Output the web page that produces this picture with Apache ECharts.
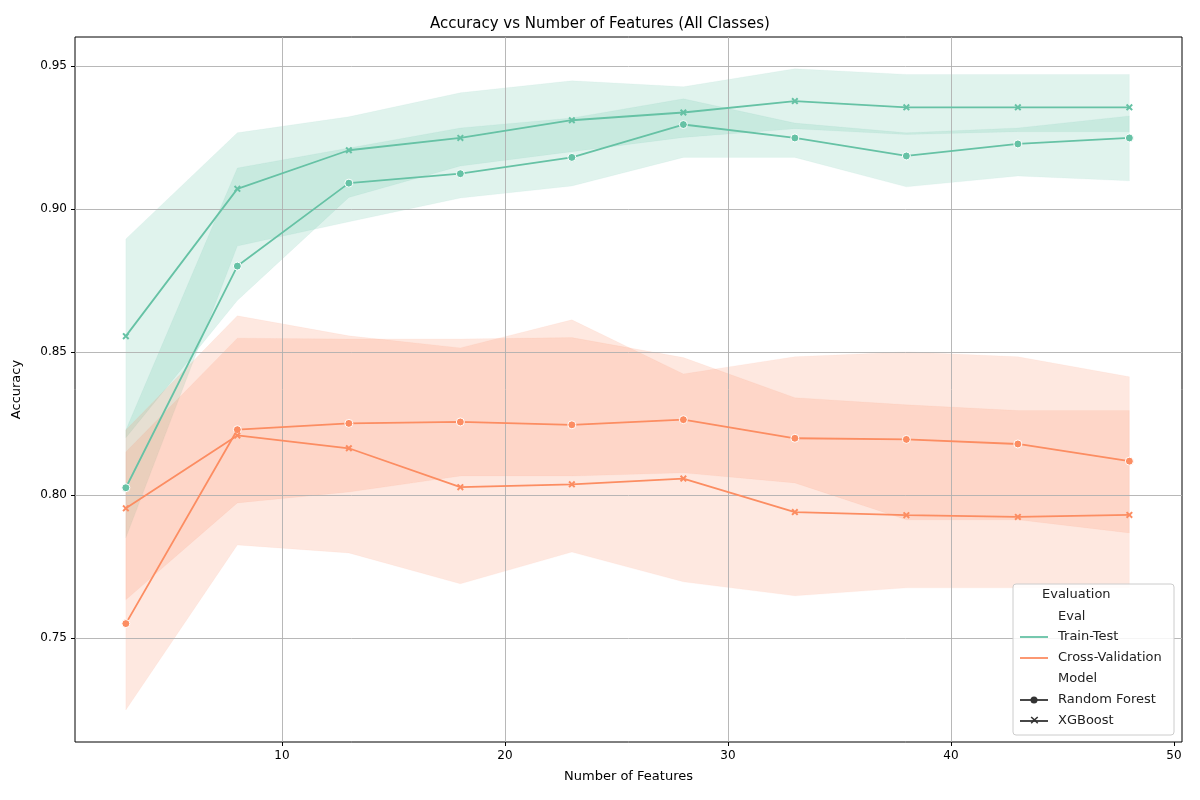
<!DOCTYPE html>
<html>
<head>
<meta charset="utf-8">
<script src="https://cdn.jsdelivr.net/npm/echarts@6/dist/echarts.min.js"></script>
<style>html,body{margin:0;padding:0;background:#fff}#chart{width:1200px;height:800px}</style>
</head>
<body>
<div id="chart"></div>
<script>
var features = [3, 8, 13, 18, 23, 28, 33, 38, 43, 48];
var xTicks = [10, 20, 30, 40, 50];
var yTicks = [0.75, 0.80, 0.85, 0.90, 0.95];

// mean lines
var ttRF  = [0.8025, 0.880, 0.909, 0.9123, 0.918, 0.9295, 0.9248, 0.9185, 0.9227, 0.9248];
var ttXGB = [0.8555, 0.907, 0.9205, 0.9248, 0.931, 0.9337, 0.9377, 0.9355, 0.9355, 0.9355];
var cvRF  = [0.755, 0.8228, 0.825, 0.8255, 0.8245, 0.8263, 0.8198, 0.8194, 0.8178, 0.8118];
var cvXGB = [0.7953, 0.8208, 0.8163, 0.8027, 0.8037, 0.8057, 0.7940, 0.7929, 0.7923, 0.7930];

// confidence bands
var ttRFLo  = [0.785, 0.887, 0.8955, 0.9038, 0.908, 0.918, 0.918, 0.9077, 0.9115, 0.9098];
var ttRFHi  = [0.8227, 0.9143, 0.9213, 0.9283, 0.9318, 0.9385, 0.930, 0.9266, 0.9283, 0.9325];
var ttXGBLo = [0.820, 0.868, 0.904, 0.915, 0.920, 0.925, 0.928, 0.926, 0.927, 0.927];
var ttXGBHi = [0.8895, 0.9266, 0.9322, 0.9406, 0.9448, 0.9427, 0.949, 0.947, 0.947, 0.947];
var cvRFLo  = [0.7248, 0.7825, 0.7797, 0.7689, 0.780, 0.7696, 0.7647, 0.7675, 0.7675, 0.7675];
var cvRFHi  = [0.815, 0.8548, 0.8545, 0.8545, 0.855, 0.848, 0.834, 0.8315, 0.8295, 0.8295];
var cvXGBLo = [0.7633, 0.7972, 0.801, 0.8066, 0.8066, 0.8077, 0.8042, 0.7913, 0.7913, 0.7867];
var cvXGBHi = [0.8227, 0.8626, 0.8556, 0.8514, 0.8612, 0.8423, 0.8483, 0.850, 0.8483, 0.8413];

var GREEN = '#66c2a5', ORANGE = '#fc8d62';
var XSYM = 'path://M2,0 L5,3 L8,0 L10,2 L7,5 L10,8 L8,10 L5,7 L2,10 L0,8 L3,5 L0,2 Z';

function pairs(ys) { return features.map(function (x, i) { return [x, ys[i]]; }); }

// band drawn as one polygon through the axis scales
function band(lo, hi, color) {
  var data = features.map(function (x, i) { return [x, lo[i], hi[i]]; });
  return { type: 'custom', data: data, silent: true, z: 1,
    encode: { x: 0, y: [1, 2] },
    renderItem: function (params, api) {
      if (params.dataIndex !== 0) return null;
      var top = [], bot = [];
      data.forEach(function (d) {
        top.push(api.coord([d[0], d[2]]));
        bot.unshift(api.coord([d[0], d[1]]));
      });
      return { type: 'polygon', shape: { points: top.concat(bot) },
        style: { fill: color, opacity: 0.2, stroke: color, lineWidth: 0.8, strokeOpacity: 0.4 } };
    } };
}

function line(ys, color, sym) {
  return { type: 'line', data: pairs(ys), symbol: sym, symbolSize: sym === 'circle' ? 8 : 7,
    lineStyle: { color: color, width: 1.8 },
    itemStyle: { color: color, borderColor: '#fff', borderWidth: sym === 'circle' ? 1 : 0 }, z: 5 };
}

var gridLines = { type: 'line', data: [], silent: true,
  markLine: { symbol: 'none', silent: true, label: { show: false },
    lineStyle: { color: '#b0b0b0', type: 'solid', width: 0.9 },
    data: [10, 20, 30, 40].map(function (v) { return { xAxis: v }; }).concat(yTicks.map(function (v) { return { yAxis: v }; })) } };

var chart = echarts.init(document.getElementById('chart'));
var series = [gridLines,
  band(ttRFLo, ttRFHi, GREEN), band(ttXGBLo, ttXGBHi, GREEN),
  band(cvRFLo, cvRFHi, ORANGE), band(cvXGBLo, cvXGBHi, ORANGE),
  line(ttRF, GREEN, 'circle'), line(ttXGB, GREEN, XSYM),
  line(cvRF, ORANGE, 'circle'), line(cvXGB, ORANGE, XSYM)];

var tf = 'DejaVu Sans';
function lg(y, txt, color, sym) {
  var els = [{ type: 'text', left: 1058, top: y - 7, style: { text: txt, font: '13px DejaVu Sans', fill: '#222' } }];
  if (color) els.push({ type: 'line', shape: { x1: 1020, y1: y, x2: 1048, y2: y }, style: { stroke: color, lineWidth: 1.8 } });
  if (sym === 'c') els.push({ type: 'circle', shape: { cx: 1034, cy: y, r: 3.5 }, style: { fill: color } });
  if (sym === 'x') els.push({ type: 'text', left: 1029, top: y - 7, style: { text: '×', font: 'bold 13px DejaVu Sans', fill: color } });
  return els;
}
var legendEls = [{ type: 'rect', shape: { x: 1013, y: 584, width: 161, height: 151, r: 3 }, style: { fill: 'rgba(255,255,255,0.85)', stroke: '#ccc' }, z: 100 }];
legendEls = legendEls.concat(
  [{ type: 'text', left: 1042, top: 588, style: { text: 'Evaluation', font: '13px DejaVu Sans', fill: '#222' } }],
  lg(617, 'Eval'), lg(637, 'Train-Test', GREEN), lg(658, 'Cross-Validation', ORANGE),
  lg(679, 'Model'), lg(700, 'Random Forest', '#333', 'c'), lg(721, 'XGBoost', '#333', 'x'));
legendEls.forEach(function (e) { e.z = e.z || 101; });

chart.setOption({
  animation: false,
  title: { text: 'Accuracy vs Number of Features (All Classes)', left: 'center', top: 12,
    textStyle: { fontFamily: tf, fontSize: 15, fontWeight: 'normal', color: '#000' } },
  grid: { left: 75, right: 18, top: 37, bottom: 58, show: true, borderColor: '#000', borderWidth: 1 },
  xAxis: { type: 'value', min: 0.72, max: 50.36,
    name: 'Number of Features', nameLocation: 'middle', nameGap: 28,
    nameTextStyle: { fontFamily: tf, fontSize: 13, color: '#000' },
    axisLine: { show: false }, splitLine: { show: false },
    axisTick: { show: true, customValues: xTicks, length: 4, lineStyle: { color: '#000' } },
    axisLabel: { customValues: xTicks, fontFamily: tf, fontSize: 12, color: '#000' } },
  yAxis: { type: 'value', min: 0.7136, max: 0.9601,
    name: 'Accuracy', nameLocation: 'middle', nameGap: 52,
    nameTextStyle: { fontFamily: tf, fontSize: 13, color: '#000' },
    axisLine: { show: false }, splitLine: { show: false },
    axisTick: { show: true, customValues: yTicks, length: 4, lineStyle: { color: '#000' } },
    axisLabel: { customValues: yTicks, fontFamily: tf, fontSize: 12, color: '#000',
      formatter: function (v) { return v.toFixed(2); } } },
  series: series,
  graphic: legendEls
});
</script>
</body>
</html>
